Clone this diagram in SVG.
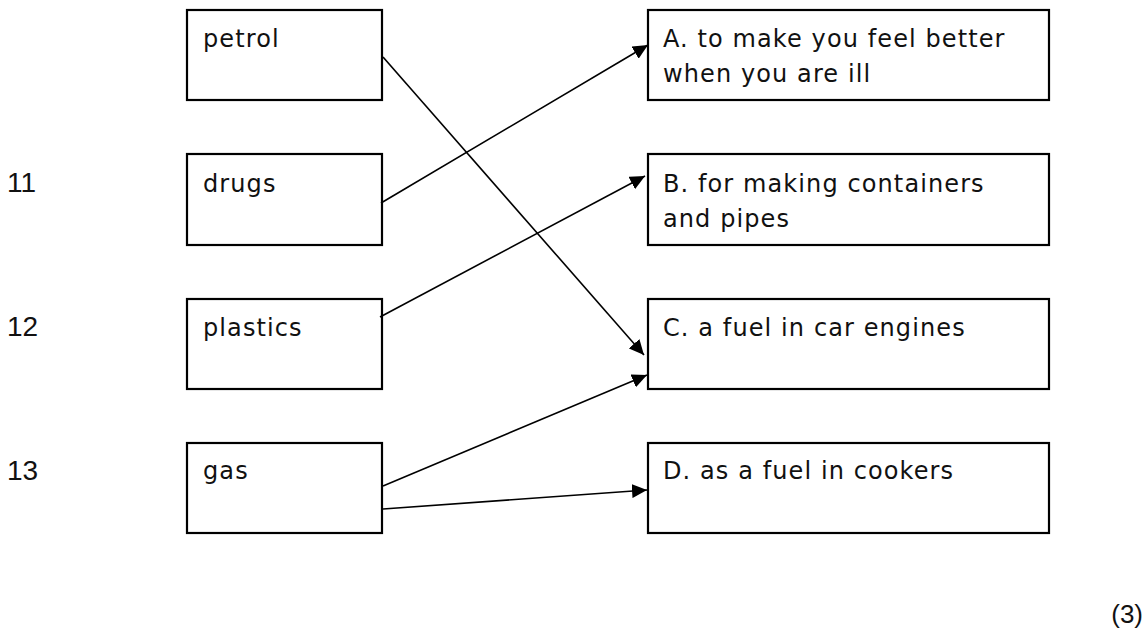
<svg xmlns="http://www.w3.org/2000/svg" width="1146" height="633" viewBox="0 0 1146 633">
<style>
.box{fill:#fff;stroke:#000;stroke-width:2.2}
.t{font-family:"DejaVu Sans",sans-serif;font-size:24px;letter-spacing:1.1px;fill:#111}
.n{font-family:"Liberation Sans",Arial,sans-serif;font-size:28px;fill:#111}
.c{stroke:#000;stroke-width:1.6;fill:none;marker-end:url(#ah)}
</style>
<defs>
<marker id="ah" markerUnits="userSpaceOnUse" markerWidth="16" markerHeight="14" refX="15" refY="7" orient="auto">
<path d="M0,0 L15,7 L0,14 Z" fill="#000"/>
</marker>
</defs>
<rect width="1146" height="633" fill="#fff"/>
<g id="labels">
<text class="n" x="7" y="192">11</text>
<text class="n" x="7" y="336">12</text>
<text class="n" x="7" y="480">13</text>
<text x="1143" y="623" text-anchor="end" style="font-family:'Liberation Sans',Arial,sans-serif;font-size:26px;fill:#111">(3)</text>
</g>
<g id="n-petrol"><rect class="box" x="187" y="10" width="195" height="90"/><text class="t" x="203" y="47">petrol</text></g>
<g id="n-drugs"><rect class="box" x="187" y="154" width="195" height="91"/><text class="t" x="203" y="192">drugs</text></g>
<g id="n-plastics"><rect class="box" x="187" y="299" width="195" height="90"/><text class="t" x="203" y="336">plastics</text></g>
<g id="n-gas"><rect class="box" x="187" y="443" width="195" height="90"/><text class="t" x="203" y="479">gas</text></g>
<g id="n-A"><rect class="box" x="648" y="10" width="401" height="90"/><text class="t" x="663" y="47">A. to make you feel better</text><text class="t" x="663" y="82">when you are ill</text></g>
<g id="n-B"><rect class="box" x="648" y="154" width="401" height="91"/><text class="t" x="663" y="192">B. for making containers</text><text class="t" x="663" y="227">and pipes</text></g>
<g id="n-C"><rect class="box" x="648" y="299" width="401" height="90"/><text class="t" x="663" y="336">C. a fuel in car engines</text></g>
<g id="n-D"><rect class="box" x="648" y="443" width="401" height="90"/><text class="t" x="663" y="479">D. as a fuel in cookers</text></g>
<g id="connectors">
<line class="c" x1="383" y1="57" x2="644" y2="355"/>
<line class="c" x1="381" y1="203" x2="648" y2="45"/>
<line class="c" x1="380" y1="317" x2="645" y2="176"/>
<line class="c" x1="383" y1="486" x2="647" y2="375"/>
<line class="c" x1="383" y1="509" x2="647" y2="490"/>
</g>
</svg>
